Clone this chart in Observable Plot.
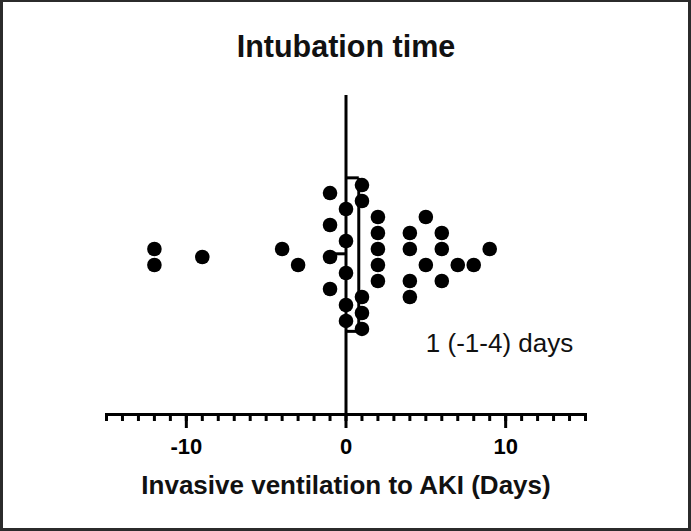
<!DOCTYPE html>
<html>
<head>
<meta charset="utf-8">
<script src="https://cdn.jsdelivr.net/npm/d3@7"></script>
<script src="https://cdn.jsdelivr.net/npm/@observablehq/plot@0.6"></script>
<style>
  html, body { margin: 0; padding: 0; background: #fff; }
  #wrap { position: relative; width: 691px; height: 531px; overflow: hidden; }
  #wrap svg { position: absolute; left: 0; top: 0; }
  #border { position: absolute; left: 0; top: 0; width: 691px; height: 531px;
            box-sizing: border-box; border: 3px solid #2b2b2b; border-top-width: 2px; pointer-events: none; }
</style>
</head>
<body>
<div id="wrap"><div id="border"></div></div>
<script>
// Data
const title = "Intubation time";
const xLabel = "Invasive ventilation to AKI (Days)";
const days = [-12,-12,-9,-4,-3,-1,-1,-1,-1,0,0,0,0,0,1,1,1,1,1,2,2,2,2,2,4,4,4,4,5,5,6,6,6,7,8,9];
const lane = [-0.5,0.5,0,-0.5,0.5,-4,-2,0,2,-3,-1,1,3,4,-4.5,-3.5,2.5,3.5,4.5,-2.5,-1.5,-0.5,0.5,1.5,-1.5,-0.5,1.5,2.5,-2.5,0.5,-1.5,-0.5,1.5,0.5,0.5,-0.5];
const minorTicks = d3.range(-15, 16);
const majorTicks = [-10, 0, 10];
const xDomain = [-15, 15];
const laneDomain = [-10.1, 9.85];
// median / IQR bracket as drawn
const bracketX = [0, 0.8];
const bracketY = [-4.95, 4.65];
const stubX = [-1, 0];
const stubY = -0.2;
const annotation = "1 (-1-4) days";
const annotationPos = {x: 5, y: 5.95};

const points = days.map((d, i) => ({days: d, lane: lane[i]}));
const bracket = [
  {x1: bracketX[0], x2: bracketX[1], y1: bracketY[0], y2: bracketY[0]},
  {x1: bracketX[1], x2: bracketX[1], y1: bracketY[0], y2: bracketY[1]},
  {x1: bracketX[1], x2: bracketX[0], y1: bracketY[1], y2: bracketY[1]},
  {x1: stubX[0], x2: stubX[1], y1: stubY, y2: stubY}
];

const font = "'Liberation Sans', Arial, Helvetica, sans-serif";
const W = 691, H = 531;
const mTop = 95, mBottom = 117, mLeft = 106, mRight = 106;
const lw = 3;

const chart = Plot.plot({
  width: W,
  height: H,
  marginTop: mTop,
  marginBottom: mBottom,
  marginLeft: mLeft,
  marginRight: mRight,
  style: {fontFamily: font, background: "transparent", color: "#000"},
  x: {domain: xDomain, axis: null},
  y: {domain: laneDomain, range: [mTop, H - mBottom], axis: null},
  marks: [
    Plot.ruleX([0], {stroke: "#000", strokeWidth: lw}),
    Plot.frame({anchor: "bottom", stroke: "#000", strokeWidth: lw}),
    Plot.axisX({ticks: minorTicks, tickSize: 7, tickFormat: () => "", strokeWidth: lw, stroke: "#000"}),
    Plot.axisX({ticks: majorTicks, tickSize: 14, tickPadding: 10, strokeWidth: lw, stroke: "#000",
                fill: "#000", fontSize: 22, fontWeight: "bold", tickFormat: d => String(d)}),
    Plot.link(bracket, {x1: "x1", x2: "x2", y1: "y1", y2: "y2", stroke: "#000", strokeWidth: lw}),
    Plot.dot(points, {x: "days", y: "lane", r: 7.3, fill: "#000", stroke: "none"}),
    Plot.text([annotation], {x: annotationPos.x, y: annotationPos.y, text: d => d, textAnchor: "start",
                lineAnchor: "bottom", fontSize: 26, fill: "#111"}),
    Plot.text([title], {frameAnchor: "top", text: d => d, dy: -38.3, lineAnchor: "bottom",
                fontSize: 30.5, fontWeight: "bold", fill: "#111"}),
    Plot.text([xLabel], {frameAnchor: "bottom", text: d => d, dy: 79, lineAnchor: "bottom",
                fontSize: 26, fontWeight: "bold", fill: "#111"})
  ]
});
document.getElementById("wrap").insertBefore(chart, document.getElementById("border"));
</script>
</body>
</html>
